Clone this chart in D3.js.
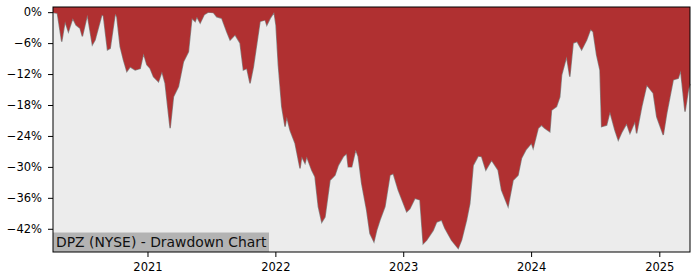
<!DOCTYPE html>
<html>
<head>
<meta charset="utf-8">
<script src="https://cdn.jsdelivr.net/npm/d3@7"></script>
<style>
  body { margin: 0; background: #fff; }
  svg { display: block; font-family: "DejaVu Sans", sans-serif; }
  .axis text { font-family: "DejaVu Sans", sans-serif; font-size: 11.5px; fill: #000; }
  .axis path, .axis line { stroke: #000; }
</style>
</head>
<body>
<div class="container"></div>
<script>
const WIDTH = 700;
const HEIGHT = 280;
const MARGIN = {top: 7, right: 10, bottom: 28, left: 53};

// decimal years
var years = [
    2020.263, 2020.271, 2020.297, 2020.331, 2020.357, 2020.383, 2020.417, 2020.443, 2020.474, 2020.492,
    2020.531, 2020.570, 2020.591, 2020.644, 2020.656, 2020.688, 2020.709, 2020.748, 2020.761, 2020.787,
    2020.813, 2020.839, 2020.865, 2020.904, 2020.943, 2020.969, 2020.995, 2021.021, 2021.047, 2021.086,
    2021.113, 2021.138, 2021.177, 2021.203, 2021.242, 2021.281, 2021.320, 2021.347, 2021.373, 2021.386,
    2021.412, 2021.443, 2021.474, 2021.516, 2021.542, 2021.581, 2021.620, 2021.646, 2021.685, 2021.724,
    2021.750, 2021.777, 2021.802, 2021.828, 2021.880, 2021.920, 2021.933, 2021.959, 2021.990, 2022.005,
    2022.023, 2022.050, 2022.076, 2022.089, 2022.115, 2022.154, 2022.193, 2022.206, 2022.232, 2022.245,
    2022.284, 2022.310, 2022.336, 2022.363, 2022.388, 2022.427, 2022.466, 2022.492, 2022.531, 2022.558,
    2022.570, 2022.597, 2022.628, 2022.648, 2022.675, 2022.714, 2022.740, 2022.771, 2022.792, 2022.818,
    2022.857, 2022.896, 2022.922, 2022.961, 2023.027, 2023.052, 2023.091, 2023.131, 2023.156, 2023.183,
    2023.234, 2023.261, 2023.300, 2023.326, 2023.378, 2023.430, 2023.456, 2023.495, 2023.521, 2023.547,
    2023.586, 2023.613, 2023.646, 2023.691, 2023.742, 2023.769, 2023.820, 2023.859, 2023.898, 2023.925,
    2023.959, 2024.003, 2024.016, 2024.055, 2024.081, 2024.107, 2024.146, 2024.159, 2024.198, 2024.224,
    2024.238, 2024.277, 2024.302, 2024.328, 2024.359, 2024.394, 2024.433, 2024.464, 2024.484, 2024.511,
    2024.537, 2024.550, 2024.589, 2024.615, 2024.654, 2024.680, 2024.709, 2024.745, 2024.771, 2024.810,
    2024.823, 2024.863, 2024.902, 2024.953, 2024.980, 2025.031, 2025.058, 2025.109, 2025.148, 2025.167,
    2025.201, 2025.227, 2025.240
];

// drawdown in percent
var drawdown = [
    0, -0.1, -0.2, -5.7, -1.8, -3.8, -1.2, -2.5, -3.1, -4.7,
    -0.5, -6.3, -5.4, -0.5, -0.7, -7.3, -7.0, -0.3, -0.9, -6.7,
    -9.3, -11.5, -10.6, -11.2, -10.9, -8.0, -10.2, -10.9, -12.5, -13.5,
    -11.5, -13.8, -22.5, -16.4, -14.4, -9.6, -7.7, -1.2, -1.8, -0.9,
    -2.1, -0.5, 0, -0.1, -0.9, -1.2, -3.8, -5.4, -4.4, -6.0,
    -11.2, -10.9, -13.8, -10.6, -1.8, -1.5, -2.5, -1.2, 0, -2.5,
    -10.2, -18.3, -22.2, -20.3, -22.9, -25.4, -30.3, -28.0, -29.3, -28.0,
    -30.6, -31.9, -37.7, -40.7, -39.7, -32.6, -31.6, -29.7, -28.0, -27.4,
    -30.0, -30.0, -26.7, -28.0, -33.2, -38.4, -42.9, -44.5, -42.3, -40.3,
    -37.7, -31.6, -31.3, -34.5, -38.7, -38.1, -36.1, -36.4, -44.9, -44.2,
    -42.3, -40.7, -40.3, -41.9, -44.2, -45.8, -44.2, -40.3, -37.1, -29.7,
    -27.9, -28.0, -30.6, -28.7, -30.6, -34.5, -37.7, -32.6, -31.6, -28.3,
    -26.7, -25.4, -26.4, -22.5, -21.9, -22.5, -23.2, -19.0, -18.3, -16.4,
    -12.2, -8.6, -12.5, -6.0, -5.7, -7.3, -5.4, -3.3, -3.8, -8.3,
    -11.2, -22.2, -21.9, -19.3, -22.9, -24.8, -23.2, -21.6, -23.5, -21.2,
    -23.5, -18.3, -14.1, -15.7, -20.3, -23.8, -19.6, -13.1, -12.8, -11.3,
    -19.3, -15.1, -13.9
];

var yTicks = [0, -6, -12, -18, -24, -30, -36, -42];
var xTickYears = [2021, 2022, 2023, 2024, 2025];
var title = "DPZ (NYSE) - Drawdown Chart";

var toDate = function(t) {
    var y = Math.floor(t);
    var start = Date.UTC(y, 0, 1), end = Date.UTC(y + 1, 0, 1);
    return new Date(start + (t - y) * (end - start));
};

var translate = function(x, y) {
    return `translate(${x},${y})`;
};

var data = years.map((t, i) => ({date: toDate(t), value: drawdown[i]}));

var innerW = WIDTH - MARGIN.left - MARGIN.right;
var innerH = HEIGHT - MARGIN.top - MARGIN.bottom;

var svg = d3.select('.container').append('svg')
    .attr('width', WIDTH)
    .attr('height', HEIGHT);

var xScale = d3.scaleUtc()
    .domain([data[0].date, data[data.length - 1].date])
    .range([0, innerW]);

var yScale = d3.scaleLinear()
    .domain([-46.5, 1.0])
    .range([innerH, 0]);

var g = svg.append('g').attr('transform', translate(MARGIN.left, MARGIN.top));

g.append('rect')
    .attr('width', innerW)
    .attr('height', innerH)
    .attr('fill', '#ececec');

var line = d3.line()
    .x(d => xScale(d.date))
    .y(d => yScale(d.value));

var area = d3.area()
    .x(d => xScale(d.date))
    .y0(0)
    .y1(d => yScale(d.value));

g.append('path')
    .attr('d', line(data))
    .attr('fill', 'none')
    .attr('stroke', '#888')
    .attr('stroke-width', 1.4);

g.append('path')
    .attr('d', area(data))
    .attr('fill', '#b03031');

// title box
var label = g.append('g').attr('transform', translate(0, innerH));
label.append('rect')
    .attr('x', 0)
    .attr('y', -19.5)
    .attr('width', 216)
    .attr('height', 19.5)
    .attr('fill', '#b3b3b3');
label.append('text')
    .attr('x', 3)
    .attr('y', -5)
    .style('font-size', '13.9px')
    .attr('fill', '#111')
    .text(title);

var fmtPct = d => (d < 0 ? '\u2212' + Math.abs(d) : d) + '%';

g.append('g')
    .classed('axis', true)
    .call(d3.axisLeft(yScale).tickValues(yTicks).tickFormat(fmtPct).tickSize(5).tickPadding(6))
    .call(a => a.select('.domain').remove());

g.append('g')
    .classed('axis', true)
    .attr('transform', translate(0, innerH))
    .call(d3.axisBottom(xScale)
        .tickValues(xTickYears.map(y => new Date(Date.UTC(y, 0, 1))))
        .tickFormat(d3.utcFormat('%Y'))
        .tickSize(5).tickPadding(6))
    .call(a => a.select('.domain').remove());

g.append('rect')
    .attr('width', innerW)
    .attr('height', innerH)
    .attr('fill', 'none')
    .attr('stroke', '#000')
    .attr('stroke-width', 1);
</script>
</body>
</html>
